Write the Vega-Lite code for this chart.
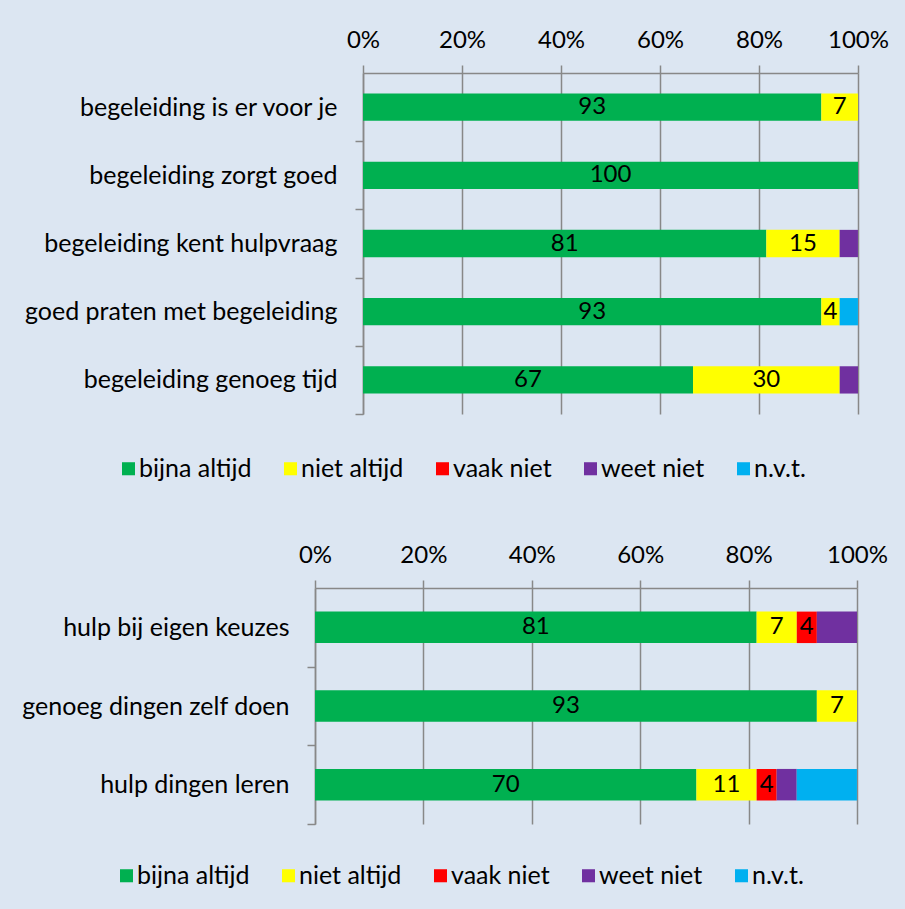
{
  "$schema": "https://vega.github.io/schema/vega-lite/v6.json",
  "background": "#DCE6F2",
  "padding": {"left": 21, "top": 28, "right": 60, "bottom": 20},
  "spacing": 61,
  "config": {
    "font": "Lato",
    "view": {"stroke": null},
    "axis": {
      "labelFont": "Lato", "labelFontSize": 24, "labelColor": "#000000",
      "domainColor": "#888888", "tickColor": "#888888", "gridColor": "#888888",
      "domainWidth": 1.5, "tickWidth": 1.5, "gridWidth": 1.5, "gridOpacity": 1,
      "tickSize": 8, "title": null
    },
    "axisY": {"labelFontSize": 25},
    "legend": {
      "orient": "none", "direction": "horizontal", "symbolType": "square",
      "symbolSize": 170, "symbolStrokeWidth": 0, "symbolOpacity": 1,
      "labelFont": "Lato", "labelFontSize": 25, "labelColor": "#000000",
      "columnPadding": 26, "labelOffset": -2, "padding": 0
    }
  },
  "datasets": {
    "top": [
      {"item": "begeleiding is er voor je", "cat": "bijna altijd", "pct": 92.59, "o": 1},
      {"item": "begeleiding is er voor je", "cat": "niet altijd", "pct": 7.41, "o": 2},
      {"item": "begeleiding zorgt goed", "cat": "bijna altijd", "pct": 100, "o": 1},
      {"item": "begeleiding kent hulpvraag", "cat": "bijna altijd", "pct": 81.48, "o": 1},
      {"item": "begeleiding kent hulpvraag", "cat": "niet altijd", "pct": 14.81, "o": 2},
      {"item": "begeleiding kent hulpvraag", "cat": "weet niet", "pct": 3.7, "o": 4},
      {"item": "goed praten met begeleiding", "cat": "bijna altijd", "pct": 92.59, "o": 1},
      {"item": "goed praten met begeleiding", "cat": "niet altijd", "pct": 3.7, "o": 2},
      {"item": "goed praten met begeleiding", "cat": "n.v.t.", "pct": 3.7, "o": 5},
      {"item": "begeleiding genoeg tijd", "cat": "bijna altijd", "pct": 66.67, "o": 1},
      {"item": "begeleiding genoeg tijd", "cat": "niet altijd", "pct": 29.63, "o": 2},
      {"item": "begeleiding genoeg tijd", "cat": "weet niet", "pct": 3.7, "o": 4}
    ],
    "bottom": [
      {"item": "hulp bij eigen keuzes", "cat": "bijna altijd", "pct": 81.48, "o": 1},
      {"item": "hulp bij eigen keuzes", "cat": "niet altijd", "pct": 7.41, "o": 2},
      {"item": "hulp bij eigen keuzes", "cat": "vaak niet", "pct": 3.7, "o": 3},
      {"item": "hulp bij eigen keuzes", "cat": "weet niet", "pct": 7.41, "o": 4},
      {"item": "genoeg dingen zelf doen", "cat": "bijna altijd", "pct": 92.59, "o": 1},
      {"item": "genoeg dingen zelf doen", "cat": "niet altijd", "pct": 7.41, "o": 2},
      {"item": "hulp dingen leren", "cat": "bijna altijd", "pct": 70.37, "o": 1},
      {"item": "hulp dingen leren", "cat": "niet altijd", "pct": 11.11, "o": 2},
      {"item": "hulp dingen leren", "cat": "vaak niet", "pct": 3.7, "o": 3},
      {"item": "hulp dingen leren", "cat": "weet niet", "pct": 3.7, "o": 4},
      {"item": "hulp dingen leren", "cat": "n.v.t.", "pct": 11.11, "o": 5}
    ]
  },
  "resolve": {
    "scale": {"color": "independent", "x": "independent", "y": "independent"},
    "legend": {"color": "independent"}
  },
  "vconcat": [
    {
      "data": {"name": "top"},
      "width": 543,
      "height": 341,
      "encoding": {
        "y": {
          "field": "item", "type": "nominal",
          "sort": ["begeleiding is er voor je", "begeleiding zorgt goed", "begeleiding kent hulpvraag", "goed praten met begeleiding", "begeleiding genoeg tijd"],
          "scale": {"paddingInner": 0.6, "paddingOuter": 0.3},
          "axis": {"title": null, "bandPosition": 1, "tickExtra": false, "tickOffset": 20.46, "labelOffset": -20.46, "offset": -48, "labelPadding": 18, "labelLimit": 400}
        },
        "x": {
          "field": "pct", "type": "quantitative", "stack": "zero",
          "scale": {"domain": [0, 100], "range": [48, 543], "nice": false, "zero": true},
          "axis": {"orient": "top", "values": [0, 20, 40, 60, 80, 100], "labelExpr": "datum.value + '%'", "labelFlush": false, "grid": true, "title": null, "labelPadding": 13}
        },
        "order": {"field": "o", "type": "quantitative"}
      },
      "layer": [
        {
          "mark": {"type": "bar"},
          "encoding": {
            "color": {
              "field": "cat", "type": "nominal",
              "scale": {"domain": ["bijna altijd", "niet altijd", "vaak niet", "weet niet", "n.v.t."], "range": ["#00B050", "#FFFF00", "#FF0000", "#7030A0", "#00B0F0"]},
              "legend": {"title": null, "orient": "none", "direction": "horizontal", "legendX": -199, "legendY": 383}
            }
          }
        },
        {
          "transform": [{"filter": "datum.o <= 3"}],
          "mark": {"type": "text", "fontSize": 24, "color": "#000000", "font": "Lato"},
          "encoding": {
            "x": {
              "field": "pct", "type": "quantitative", "stack": "zero", "bandPosition": 0.5,
              "scale": {"domain": [0, 100], "range": [48, 543], "nice": false, "zero": true},
              "axis": {"orient": "top", "values": [0, 20, 40, 60, 80, 100], "labelExpr": "datum.value + '%'", "labelFlush": false, "grid": true, "title": null, "labelPadding": 13}
            },
            "text": {"field": "pct", "type": "quantitative", "format": ".0f"}
          }
        }
      ]
    },
    {
      "data": {"name": "bottom"},
      "width": 542,
      "height": 236,
      "encoding": {
        "y": {
          "field": "item", "type": "nominal",
          "sort": ["hulp bij eigen keuzes", "genoeg dingen zelf doen", "hulp dingen leren"],
          "scale": {"paddingInner": 0.6, "paddingOuter": 0.3},
          "axis": {"title": null, "bandPosition": 1, "tickExtra": false, "tickOffset": 23.6, "labelOffset": -23.6, "labelPadding": 18, "labelLimit": 400}
        },
        "x": {
          "field": "pct", "type": "quantitative", "stack": "zero",
          "scale": {"domain": [0, 100], "nice": false, "zero": true},
          "axis": {"orient": "top", "values": [0, 20, 40, 60, 80, 100], "labelExpr": "datum.value + '%'", "labelFlush": false, "grid": true, "title": null, "labelPadding": 13}
        },
        "order": {"field": "o", "type": "quantitative"}
      },
      "layer": [
        {
          "mark": {"type": "bar"},
          "encoding": {
            "color": {
              "field": "cat", "type": "nominal",
              "scale": {"domain": ["bijna altijd", "niet altijd", "vaak niet", "weet niet", "n.v.t."], "range": ["#00B050", "#FFFF00", "#FF0000", "#7030A0", "#00B0F0"]},
              "legend": {"title": null, "orient": "none", "direction": "horizontal", "legendX": -201, "legendY": 275}
            }
          }
        },
        {
          "transform": [{"filter": "datum.o <= 3"}],
          "mark": {"type": "text", "fontSize": 24, "color": "#000000", "font": "Lato"},
          "encoding": {
            "x": {
              "field": "pct", "type": "quantitative", "stack": "zero", "bandPosition": 0.5,
              "scale": {"domain": [0, 100], "nice": false, "zero": true},
              "axis": {"orient": "top", "values": [0, 20, 40, 60, 80, 100], "labelExpr": "datum.value + '%'", "labelFlush": false, "grid": true, "title": null, "labelPadding": 13}
            },
            "text": {"field": "pct", "type": "quantitative", "format": ".0f"}
          }
        }
      ]
    }
  ]
}
